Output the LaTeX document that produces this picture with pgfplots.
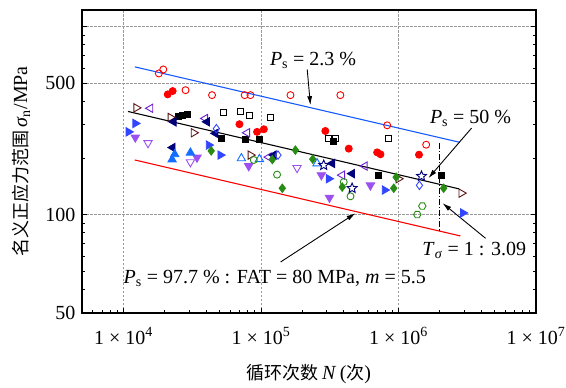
\documentclass[border=0pt]{standalone}
\usepackage{fontspec}
\setmainfont{Liberation Serif}
\newfontfamily\cjk{Noto Sans CJK SC}
\usepackage{pgfplots}
\pgfplotsset{compat=1.18}
\usetikzlibrary{arrows.meta}
\definecolor{cblueline}{RGB}{20,90,255}
\definecolor{cblue}{RGB}{50,70,255}
\definecolor{cblue2}{RGB}{20,110,255}
\definecolor{cpurple}{RGB}{155,80,240}
\definecolor{cviolet}{RGB}{110,30,210}
\definecolor{cnavy}{RGB}{0,0,120}
\definecolor{cbrown}{RGB}{90,20,20}
\definecolor{cgreen}{RGB}{40,140,20}
\pgfdeclareplotmark{ostar}{%
\pgfpathmoveto{\pgfpointpolar{90}{\pgfplotmarksize}}%
\pgfpathlineto{\pgfpointpolar{126}{0.45\pgfplotmarksize}}%
\pgfpathlineto{\pgfpointpolar{162}{\pgfplotmarksize}}%
\pgfpathlineto{\pgfpointpolar{198}{0.45\pgfplotmarksize}}%
\pgfpathlineto{\pgfpointpolar{234}{\pgfplotmarksize}}%
\pgfpathlineto{\pgfpointpolar{270}{0.45\pgfplotmarksize}}%
\pgfpathlineto{\pgfpointpolar{306}{\pgfplotmarksize}}%
\pgfpathlineto{\pgfpointpolar{342}{0.45\pgfplotmarksize}}%
\pgfpathlineto{\pgfpointpolar{18}{\pgfplotmarksize}}%
\pgfpathlineto{\pgfpointpolar{54}{0.45\pgfplotmarksize}}%
\pgfpathclose\pgfusepathqstroke}
\pgfdeclareplotmark{ohex}{%
\pgfpathmoveto{\pgfpointpolar{0}{\pgfplotmarksize}}%
\pgfpathlineto{\pgfpointpolar{60}{\pgfplotmarksize}}%
\pgfpathlineto{\pgfpointpolar{120}{\pgfplotmarksize}}%
\pgfpathlineto{\pgfpointpolar{180}{\pgfplotmarksize}}%
\pgfpathlineto{\pgfpointpolar{240}{\pgfplotmarksize}}%
\pgfpathlineto{\pgfpointpolar{300}{\pgfplotmarksize}}%
\pgfpathclose\pgfusepathqstroke}
\begin{document}
\begin{tikzpicture}
\begin{axis}[name=ax, scale only axis, width=454pt, height=303pt,
 xmode=log, ymode=log, xmin=5000, xmax=1e7, ymin=30, ymax=1221,
 xtick={1e4,1e5,1e6,1e7},
 xticklabels={1 × 10\textsuperscript{4},1 × 10\textsuperscript{5},1 × 10\textsuperscript{6},1 × 10\textsuperscript{7}},
 minor xtick={6000,7000,8000,9000,20000,30000,40000,50000,60000,70000,80000,90000,200000,300000,400000,500000,600000,700000,800000,900000,2000000,3000000,4000000,5000000,6000000,7000000,8000000,9000000},
 ytick={30,100,500,1000}, yticklabels={50,100,500,{}},
 minor ytick={40,50,60,70,80,90,200,300,400,600,700,800,900},
 tick align=inside, xtick pos=left, ytick pos=both,
 major tick length=5pt, minor tick length=3pt,
 grid=major, major grid style={gray!80, dash pattern=on 2.5pt off 1.5pt, line width=0.8pt},
 axis line style={line width=1.2pt}, tick style={black, line width=0.8pt},
 ticklabel style={font=\fontsize{20}{24}\selectfont},
 xticklabel style={yshift=-11pt}, yticklabel style={xshift=-3pt},
 xlabel={{\cjk\fontsize{18}{22}\selectfont 循环次数}\,\textit{N}\,({\cjk\fontsize{18}{22}\selectfont 次})},
 ylabel={{\cjk\fontsize{18}{22}\selectfont 名义正应力范围}\,\textit{σ}\textsubscript{n}/MPa},
 label style={font=\fontsize{20}{24}\selectfont},
 xlabel style={at={([yshift=-61pt]rel axis cs:0.5,0)}, anchor=center},
 ylabel style={at={([xshift=-61pt]rel axis cs:0,0.5)}, anchor=center},
 clip=false,
 every axis plot/.append style={line width=0.9pt}]
% data markers
\addplot[only marks, mark=o, red, mark size=3.5pt] coordinates {(1.81e4,562) (1.95e4,590) (2.83e4,458) (4.41e4,431) (7.62e4,431) (8.39e4,431) (1.64e5,431) (3.78e5,431) (8.28e5,298) (1.59e6,235)};
\addplot[only marks, mark=*, red, mark size=3.5pt] coordinates {(2.10e4,435) (2.28e4,453) (6.98e4,302) (9.37e4,275) (1.05e5,284) (2.94e5,278) (4.35e5,224) (7.0e5,214) (7.40e5,209) (1.41e6,208)};
\addplot[only marks, mark=square, black, mark size=3pt] coordinates {(5.36e4,349) (7.10e4,352) (8.24e4,337) (1.17e5,328) (3.11e5,255) (3.48e5,253) (8.41e5,255)};
\addplot[only marks, mark=square*, black, mark size=3pt] coordinates {(2.52e4,333) (2.67e4,336) (2.91e4,339) (5.16e4,253) (7.71e4,251) (9.75e4,251) (3.38e5,245) (7.19e5,162) (2.05e6,162)};
\addplot[only marks, mark=triangle, cbrown, mark size=4.8pt, mark options={rotate=-90}] coordinates {(1.24e4,369) (2.20e4,328) (3.24e4,272) (8.39e4,207) (1.0e6,155) (2.87e6,130)};
\addplot[only marks, mark=triangle, cviolet, mark size=4.8pt, mark options={rotate=90}] coordinates {(1.57e4,367) (3.94e4,324) (7.94e4,272) (1.14e5,202) (3.90e5,162) (5.69e5,181)};
\addplot[only marks, mark=triangle*, cnavy, mark size=4.8pt, mark options={rotate=90}] coordinates {(2.32e4,311) (4.06e4,311) (4.67e4,270) (2.28e4,227) (1.24e5,207) (3.30e5,187) (4.60e5,165)};
\addplot[only marks, mark=triangle*, cblue, mark size=4.8pt, mark options={rotate=-90}] coordinates {(1.22e4,305) (1.09e4,275) (4.17e4,234) (5.07e4,207) (3.11e5,155) (7.94e5,135) (2.94e6,102)};
\addplot[only marks, mark=triangle*, cpurple, mark size=4.8pt, mark options={rotate=180}] coordinates {(1.22e4,257) (3.43e4,201) (8.15e4,181) (2.75e5,162) (3.15e5,123) (6.25e5,143)};
\addplot[only marks, mark=triangle, cpurple, mark size=4.8pt, mark options={rotate=180}] coordinates {(1.51e4,240) (3.07e4,190) (1.83e5,177)};
\addplot[only marks, mark=triangle*, cblue2, mark size=4.8pt] coordinates {(2.36e4,209) (2.26e4,196) (3.07e4,213)};
\addplot[only marks, mark=triangle, cblue2, mark size=4.8pt] coordinates {(7.21e4,199) (9.75e4,197) (2.56e5,187)};
\addplot[only marks, mark=diamond*, cgreen, mark size=4.2pt] coordinates {(4.35e4,218) (1.21e5,196) (1.78e5,220) (2.38e5,197) (1.43e5,138) (3.90e5,140) (9.62e5,158) (9.24e5,138) (2.13e6,138)};
\addplot[only marks, mark=diamond, cblue, mark size=4.2pt] coordinates {(4.74e4,286) (1.33e5,207) (1.42e6,143)};
\addplot[only marks, mark=o, cgreen, mark size=3.5pt] coordinates {(8.87e4,195) (1.31e5,163) (4.0e5,149) (4.48e5,125)};
\addplot[only marks, mark=ohex, cgreen, mark size=3.7pt] coordinates {(1.49e6,111) (1.37e6,100)};
\addplot[only marks, mark=ostar, cnavy, mark size=5.2pt] coordinates {(2.86e5,183) (4.60e5,138) (1.47e6,160)};
% fitted lines
\addplot[cblueline, line width=1.1pt] coordinates {(1.21e4,609) (2.79e6,242)};
\addplot[black, line width=1.1pt] coordinates {(1.08e4,353) (2.75e6,137)};
\addplot[red, line width=1.1pt] coordinates {(1.21e4,195) (2.82e6,77)};
\addplot[black, dash pattern=on 6pt off 2pt on 1.2pt off 2pt, line width=0.9pt] coordinates {(2e6,240) (2e6,82)};
% annotations
\node[anchor=base west, inner sep=0pt, font=\fontsize{20}{24}\selectfont] at (axis cs:1.16e5,622) {\textit{P}\textsubscript{s} = 2.3 \%};
\node[anchor=base west, inner sep=0pt, font=\fontsize{20}{24}\selectfont] at (axis cs:1.69e6,305) {\textit{P}\textsubscript{s} = 50 \%};
\node[anchor=base west, inner sep=0pt, font=\fontsize{20}{24}\selectfont] at (axis cs:1.49e6,60.8) {\textit{T}\textsubscript{\textit{σ}} = 1 : 3.09};
\node[anchor=base west, inner sep=0pt, font=\fontsize{20}{24}\selectfont] at (axis cs:1e4,43.1) {\textit{P}\textsubscript{s} = 97.7 \% : FAT = 80 MPa, \textit{m} = 5.5};
\draw[-{Latex[length=9pt,width=5pt]}, line width=0.9pt] (axis cs:2.17e5,590) -- (axis cs:2.29e5,381);
\draw[-{Latex[length=9pt,width=5pt]}, line width=0.9pt] (axis cs:3.40e6,288) -- (axis cs:1.65e6,156);
\draw[-{Latex[length=9pt,width=5pt]}, line width=0.9pt] (axis cs:4.30e6,74.8) -- (axis cs:2.09e6,115);
\draw[-{Latex[length=9pt,width=5pt]}, line width=0.9pt] (axis cs:1.39e5,56) -- (axis cs:4.87e5,101.6);
\end{axis}
\pgfresetboundingbox
\path ([shift={(-82pt,-74pt)}]ax.south west) rectangle ([shift={(30pt,10pt)}]ax.north east);
\end{tikzpicture}
\end{document}
